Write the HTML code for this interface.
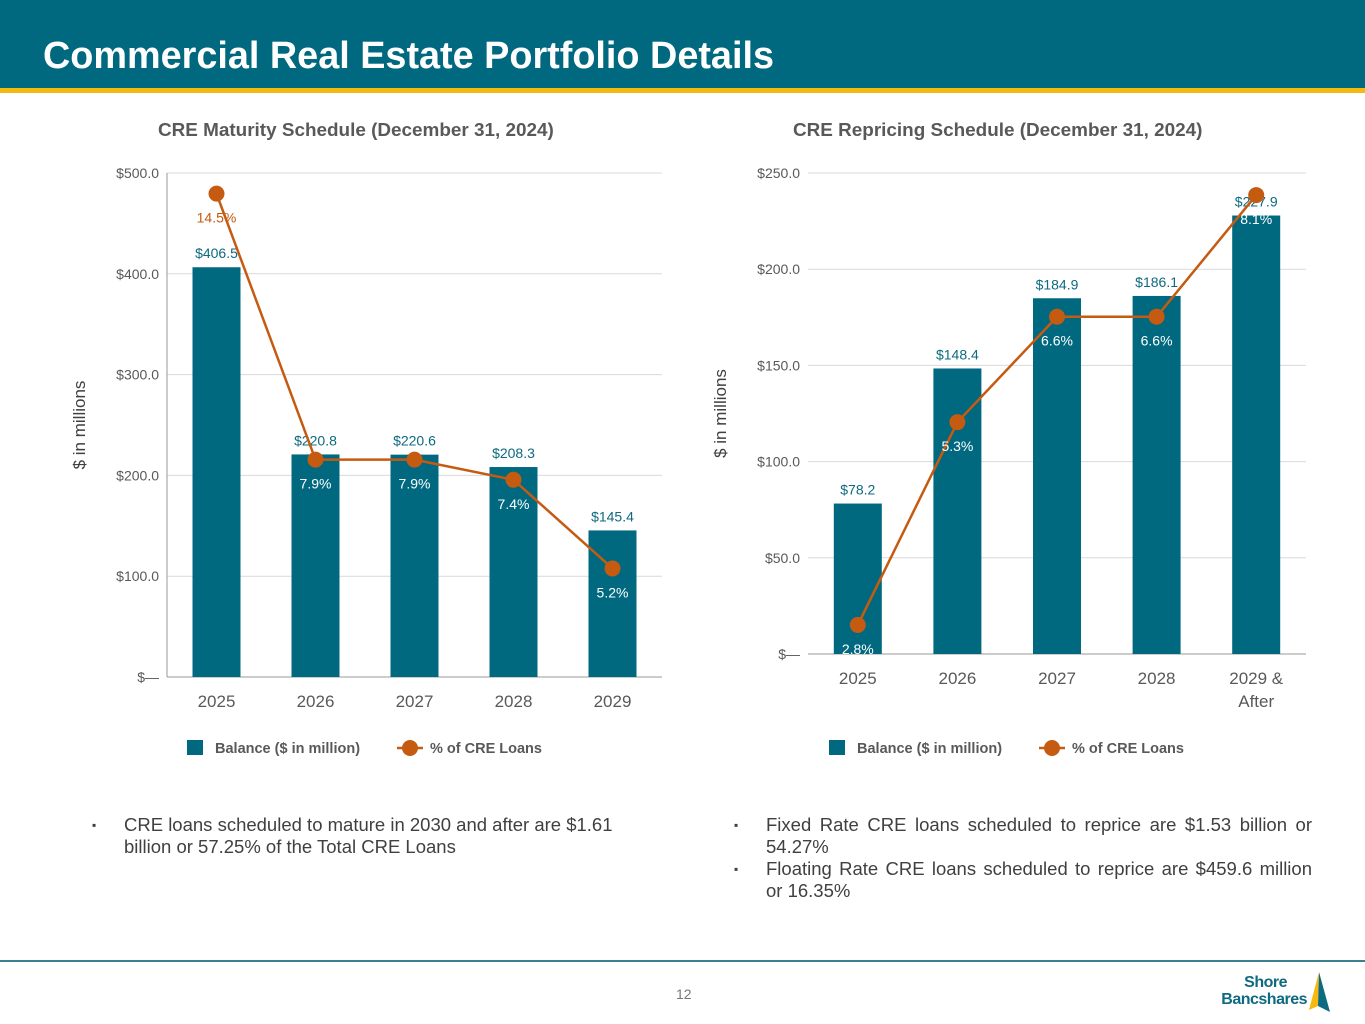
<!DOCTYPE html>
<html><head><meta charset="utf-8">
<style>
*{margin:0;padding:0;box-sizing:border-box}
body{width:1365px;height:1024px;background:#fff;font-family:"Liberation Sans",Arial,sans-serif;position:relative;overflow:hidden}
.hdr{position:absolute;left:0;top:0;width:1365px;height:88px;background:#006980}
.stripe{position:absolute;left:0;top:88px;width:1365px;height:5px;background:#f6b90f}
.title{position:absolute;left:43px;top:35px;color:#fff;font-size:37.8px;font-weight:bold}
.ct{position:absolute;top:120px;font-size:18.9px;font-weight:bold;color:#595959}
.bul{position:absolute;font-size:18.5px;color:#404040;line-height:22px}
.bul .m{position:absolute;left:-32px;font-size:12px}
.foot{position:absolute;left:0;top:960px;width:1365px;height:2px;background:#3b7f90}
.pg{position:absolute;left:676px;top:986px;font-size:14px;color:#777}
</style></head><body>
<div class="hdr"></div>
<div class="stripe"></div>
<div class="title">Commercial Real Estate Portfolio Details</div>
<div class="ct" style="left:158px">CRE Maturity Schedule (December 31, 2024)</div>
<div class="ct" style="left:793px">CRE Repricing Schedule (December 31, 2024)</div>
<svg id="c" width="1365" height="1024" style="position:absolute;left:0;top:0"></svg>
<div class="bul" style="left:124px;top:814px;width:505px"><span class="m">▪</span>CRE loans scheduled to mature in 2030 and after are $1.61 billion or 57.25% of the Total CRE Loans</div>
<div class="bul" style="left:766px;top:814px;width:546px;text-align:justify"><span class="m">▪</span>Fixed Rate CRE loans scheduled to reprice are $1.53 billion or 54.27%</div>
<div class="bul" style="left:766px;top:858px;width:546px;text-align:justify"><span class="m">▪</span>Floating Rate CRE loans scheduled to reprice are $459.6 million or 16.35%</div>
<div class="foot"></div>
<div class="pg">12</div>
<div style="position:absolute;left:1210px;top:974px;width:97px;text-align:right;color:#0d6a80;font-weight:bold;font-size:16px;line-height:17px;letter-spacing:-0.5px"><div style="padding-right:20px">Shore</div><div>Bancshares</div></div>
<svg style="position:absolute;left:1306px;top:970px" width="26" height="46"><polygon points="13,2 3,40 12,36" fill="#f6b90f"/><polygon points="13,2 24,42 12,36" fill="#0d6a80"/></svg>
<script>
const leftCats=["2025","2026","2027","2028","2029"];
const leftVals=[406.5,220.8,220.6,208.3,145.4];
const leftPct=[14.5,7.9,7.9,7.4,5.2];
const leftTicks=[0,100,200,300,400,500];
const rightCats=[["2025"],["2026"],["2027"],["2028"],["2029 &","After"]];
const rightVals=[78.2,148.4,184.9,186.1,227.9];
const rightPct=[2.8,5.3,6.6,6.6,8.1];
const rightTicks=[0,50,100,150,200,250];
const svg=document.getElementById('c');
const NS='http://www.w3.org/2000/svg';
function mk(t,a,p){const e=document.createElementNS(NS,t);for(const k in a)e.setAttribute(k,a[k]);(p||svg).appendChild(e);return e;}
function txt(x,y,s,a){const e=mk('text',Object.assign({x:x,y:y,'font-family':'Liberation Sans, Arial, sans-serif'},a));e.textContent=s;return e;}
function fmt(v){return v===0?'$—':'$'+v.toFixed(1);}
function chart(o){
  const yS=v=>o.y0-(v/o.vmax)*(o.y0-o.ytop);
  const pS=p=>o.p0-p*o.pk;
  o.ticks.forEach(t=>{
    const y=yS(t);
    const g=mk('line',{x1:o.xl,x2:o.xr,y1:y,y2:y,stroke:t===0?'#999':'#d9d9d9','stroke-width':1});
    
    
    const l=txt(o.xl-8,y+5,fmt(t),{'font-size':14,fill:'#595959','text-anchor':'end'});
    
    
  });
  if(o.axisLine){const a=mk('line',{x1:o.xl,x2:o.xl,y1:o.ytop,y2:o.y0,stroke:'#999'});
    
    }
  const yt=txt(0,0,'$ in millions',{'font-size':17,fill:'#404040','text-anchor':'middle',transform:`translate(${o.xl-82},${(o.y0+o.ytop)/2}) rotate(-90)`});
  
  
  const step=(o.xr-o.xl)/o.cats.length;
  const cx=i=>o.xl+step*(i+0.5);
  o.vals.forEach((v,i)=>{
    const b=mk('rect',{x:cx(i)-24,y:yS(v),width:48,height:o.y0-yS(v),fill:'#006980'});
    
    
    const l=txt(cx(i),yS(v)-9,'$'+v.toFixed(1),{'font-size':14,fill:'#0d6a80','text-anchor':'middle'});
    
    
    const lines=Array.isArray(o.cats[i])?o.cats[i]:[o.cats[i]];
    lines.forEach((s,j)=>{const c=txt(cx(i),o.y0+o.catOff+j*23,s,{'font-size':17,fill:'#595959','text-anchor':'middle'});
      
      });
  });
  const pts=o.pct.map((p,i)=>cx(i)+','+pS(p)).join(' ');
  const pl=mk('polyline',{points:pts,fill:'none',stroke:'#c55a11','stroke-width':2.5});
  
  
  o.pct.forEach((p,i)=>{
    const c=mk('circle',{cx:cx(i),cy:pS(p),r:8,fill:'#c55a11'});
    
    
    const ly=pS(p)+29;
    const inBar=ly-3>yS(o.vals[i]);
    const l=txt(cx(i),ly,p.toFixed(1)+'%',{'font-size':14,fill:inBar?'#fff':'#c55a11','text-anchor':'middle'});
    
    
  });
  const lx=o.legX,ly=748;
  const r=mk('rect',{x:lx,y:ly-8,width:16,height:15,fill:'#006980'});
  
  
  const t1=txt(lx+28,ly+5,'Balance ($ in million)',{'font-size':14.5,'font-weight':'bold',fill:'#595959'});
  
  
  const ll=mk('line',{x1:lx+210,x2:lx+236,y1:ly,y2:ly,stroke:'#c55a11','stroke-width':2.5});
  
  
  const lc=mk('circle',{cx:lx+223,cy:ly,r:8,fill:'#c55a11'});
  
  
  const t2=txt(lx+243,ly+5,'% of CRE Loans',{'font-size':14.5,'font-weight':'bold',fill:'#595959'});
  
  
}
chart({xl:167,xr:662,y0:677,ytop:173,vmax:500,ticks:leftTicks,cats:leftCats,vals:leftVals,pct:leftPct,p0:778,pk:40.3,catOff:30,legX:187,axisLine:true});
chart({xl:808,xr:1306,y0:654,ytop:173,vmax:250,ticks:rightTicks,cats:rightCats,vals:rightVals,pct:rightPct,p0:852,pk:81.1,catOff:30,legX:829,axisLine:false});
</script>
</body></html>
